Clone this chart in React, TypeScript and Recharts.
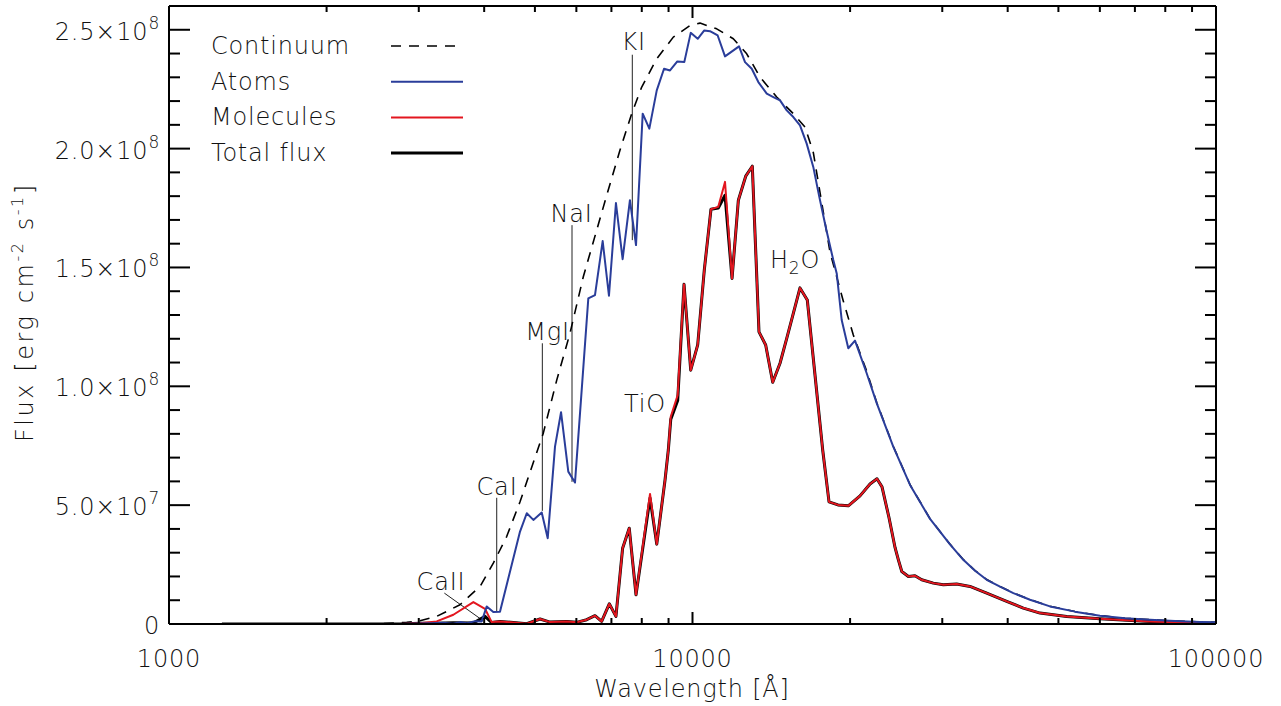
import React from 'react';
import { ComposedChart, Line, XAxis, YAxis, ReferenceLine, ReferenceDot } from 'recharts';

const W = 1281;
const H = 706;
const FONT = "'DejaVu Sans', sans-serif";
const FW = 200;
const TXT = '#111';
const BLUE = '#2a3d9a';
const RED = '#e3161f';

// Wavelength in Angstrom, flux in units of 1e6 erg cm^-2 s^-1
const continuumWl = [1262, 1779, 2530, 2845, 3016, 3246, 3441, 3596, 3928, 4164, 4416, 4683, 5188, 5504, 5834, 6186, 6561, 6858, 7268, 7653, 7998, 8545, 9190, 9890, 10335, 11123, 11966, 12692, 13458, 14482, 15581, 16402, 17011, 17467, 18311, 19386, 20286, 21514, 22484, 24181, 26035, 28427, 31036, 32907, 34651, 36479, 38676, 41012, 44130, 48180, 53780, 60020, 67020, 74787, 83500, 93210, 100000];
const continuumFlux = [0, 0, 0.1, 0.7, 1.4, 3.2, 6.0, 8.1, 15.8, 25.6, 36.8, 51.4, 80.3, 102.6, 122.3, 146.1, 165.7, 180.4, 199.3, 214.7, 225.9, 237.8, 246.9, 251.8, 252.8, 250.4, 246.2, 239.9, 230.1, 221.7, 214.7, 209.1, 198.4, 183.3, 156.4, 136.3, 121.6, 106.4, 93.2, 74.8, 58.6, 44.3, 33.6, 27.1, 22.5, 18.7, 15.75, 13.05, 10.25, 7.45, 5.25, 3.55, 2.45, 1.85, 1.28, 0.86, 0.72];

const atomsWl = [1262, 1779, 2763, 3152, 3337, 3487, 3596, 3708, 3842, 3957, 4045, 4164, 4288, 4683, 4824, 4966, 5152, 5290, 5462, 5609, 5791, 5964, 6324, 6512, 6736, 6925, 7141, 7354, 7594, 7800, 8033, 8271, 8545, 8823, 9058, 9354, 9645, 9922, 10231, 10532, 10800, 11171, 11537, 12271, 12599, 12977, 13359, 13862, 14269, 14696, 15136, 15581, 16045, 16524, 17011, 17467, 17989, 18575, 18858, 19275, 19843, 20437, 21514, 22484, 24181, 26035, 28427, 31036, 32907, 34651, 36479, 38676, 41012, 44130, 48180, 53780, 60020, 67020, 74787, 83500, 93210, 100000];
const atomsFlux = [0, 0, 0, 0.3, 0.5, 0.1, 0.8, 0.3, 1.2, 1.1, 7.4, 5.0, 5.2, 38.9, 46.6, 43.8, 46.9, 36.1, 74.6, 89.1, 64.1, 59.5, 137.0, 138.4, 161.1, 138.1, 177.1, 153.5, 178.3, 159.4, 214.7, 208.4, 224.5, 233.6, 232.9, 236.7, 236.4, 248.7, 246.2, 249.7, 249.4, 247.6, 238.8, 243.0, 236.4, 233.6, 228.0, 223.1, 221.7, 220.3, 216.1, 213.3, 209.8, 202.1, 192.3, 179.7, 166.5, 153.1, 147.5, 127.9, 116.0, 119.2, 105.5, 92.9, 74.6, 58.5, 44.2, 33.5, 27.0, 22.4, 18.6, 15.7, 13.0, 10.2, 7.4, 5.2, 3.5, 2.4, 1.8, 1.26, 0.84, 0.7];

const moleculesWl = [1262, 2763, 3016, 3246, 3493, 3814, 4015, 4134, 4288, 4824, 5114, 5343, 5750, 6009, 6279, 6512, 6706, 6935, 7141, 7354, 7571, 7800, 8296, 8545, 8862, 8991, 9087, 9369, 9634, 9922, 10231, 10532, 10847, 11201, 11537, 11899, 12235, 12638, 13009, 13397, 13797, 14232, 14696, 15136, 15581, 16045, 16569, 17730, 18230, 18962, 19843, 20893, 21833, 22510, 23014, 23736, 24376, 24733, 25107, 25846, 26607, 27408, 28840, 30137, 31963, 33890, 36479, 39829, 42855, 46115, 51858, 60020, 74787, 93210, 100000];
const moleculesFlux = [0, 0, 0.3, 1.1, 3.9, 9.2, 6.4, 0.8, 1.1, 0.1, 2.1, 0.8, 1.1, 0.7, 1.8, 3.5, 1.1, 8.5, 3.2, 31.9, 40.3, 12.3, 54.7, 33.6, 60.6, 73.2, 87.2, 96.3, 142.9, 106.8, 117.4, 148.9, 174.5, 175.5, 186.0, 145.4, 178.3, 188.4, 192.6, 122.9, 117.4, 101.7, 109.7, 120.2, 130.7, 141.4, 136.3, 73.2, 51.4, 50.1, 49.7, 53.9, 58.9, 61.1, 57.7, 44.7, 32.1, 27.0, 22.1, 20.0, 20.3, 18.6, 17.2, 16.5, 16.8, 15.8, 13.0, 9.5, 6.7, 4.6, 3.2, 2.2, 1.1, 0.4, 0.3];

const totalWl = moleculesWl;
const totalFlux = [0, 0, 0.3, 0.3, 0.5, 0.4, 3.2, 0.6, 1.1, 0.1, 2.1, 0.8, 1.1, 0.7, 1.8, 3.5, 1.1, 8.5, 3.2, 31.9, 40.3, 12.3, 53.0, 33.6, 60.6, 73.2, 86.0, 94.0, 142.9, 106.8, 117.4, 148.9, 174.5, 175.0, 180.4, 145.4, 178.3, 188.4, 192.6, 122.9, 117.4, 101.7, 109.7, 120.2, 130.7, 141.4, 136.3, 73.2, 51.4, 50.1, 49.7, 53.9, 58.9, 61.1, 57.7, 44.7, 32.1, 27.0, 22.1, 20.0, 20.3, 18.6, 17.2, 16.5, 16.8, 15.8, 13.0, 9.5, 6.7, 4.6, 3.2, 2.2, 1.1, 0.4, 0.3];

const xTicks = [1000, 2000, 3000, 4000, 5000, 6000, 7000, 8000, 9000, 10000, 20000, 30000, 40000, 50000, 60000, 70000, 80000, 90000, 100000];
const xMajor = [1000, 10000, 100000];
const yTicks = Array.from({ length: 26 }, (_, i) => i * 1e7);

// annotation: label position (tx, ty) and line from (x1,y1) to (x2,y2); flux in 1e6
const annotations = [
  { label: 'CaII', tx: 3308, ty: 14.4, x1: 3357, y1: 13.0, x2: 3957, y2: 1.8 },
  { label: 'CaI', tx: 4233, ty: 54.3, x1: 4227, y1: 53.1, x2: 4227, y2: 5.2 },
  { label: 'MgI', tx: 5284, ty: 119.5, x1: 5166, y1: 118.1, x2: 5166, y2: 47.6 },
  { label: 'NaI', tx: 5877, ty: 169.2, x1: 5886, y1: 167.8, x2: 5886, y2: 59.8 },
  { label: 'KI', tx: 7721, ty: 241.3, x1: 7674, y1: 239.5, x2: 7674, y2: 161.5 },
];
const tioLabel = { label: 'TiO', tx: 8115, ty: 89.3 };
const h2oLabel = { tx: 14062, ty: 149.6 };

const toRows = (wl: number[], fl: number[]) => wl.map((w, i) => ({ wl: w, f: fl[i] * 1e6 }));

const series = [
  { name: 'Continuum', rows: toRows(continuumWl, continuumFlux), color: '#000', width: 1.6, dash: '10 8' },
  { name: 'Atoms', rows: toRows(atomsWl, atomsFlux), color: BLUE, width: 2, dash: undefined },
  { name: 'Molecules', rows: toRows(moleculesWl, moleculesFlux), color: RED, width: 2, dash: undefined },
  { name: 'Total flux', rows: toRows(totalWl, totalFlux), color: '#000', width: 3, dash: undefined },
];

const fmtY = (v: number) => {
  if (v === 0) return { m: '0', e: '' };
  const e = Math.floor(Math.log10(v) + 1e-9);
  return { m: (v / Math.pow(10, e)).toFixed(1) + '\u00d710', e: String(e) };
};

const isMajorY = (v: number) => Math.round(v / 1e7) % 5 === 0;

const textProps = { fontSize: 24, fontFamily: FONT, fontWeight: FW, fill: TXT, letterSpacing: 0.8 } as const;

const BottomTick = (p: any) => {
  const v = p.payload.value;
  const major = xMajor.includes(v);
  return (
    <g>
      <line x1={p.x} x2={p.x} y1={p.y} y2={p.y - (major ? 12 : 6)} stroke="#000" strokeWidth={2} />
      {major && (
        <text x={p.x} y={p.y + 43} textAnchor="middle" {...textProps}>
          {v}
        </text>
      )}
    </g>
  );
};
const TopTick = (p: any) => {
  const v = p.payload.value;
  const major = xMajor.includes(v);
  return <line x1={p.x} x2={p.x} y1={p.y} y2={p.y + (major ? 12 : 6)} stroke="#000" strokeWidth={2} />;
};
const LeftTick = (p: any) => {
  const v = p.payload.value;
  const major = isMajorY(v);
  const f = fmtY(v);
  return (
    <g>
      <line x1={p.x} x2={p.x + (major ? 21 : 11)} y1={p.y} y2={p.y} stroke="#000" strokeWidth={2} />
      {major && (
        <text x={p.x - 9} y={p.y + 10} textAnchor="end" {...textProps}>
          {f.m}
          {f.e && <tspan fontSize={17} dy={-11}>{f.e}</tspan>}
        </text>
      )}
    </g>
  );
};
const RightTick = (p: any) => {
  const v = p.payload.value;
  const major = isMajorY(v);
  return <line x1={p.x} x2={p.x - (major ? 21 : 11)} y1={p.y} y2={p.y} stroke="#000" strokeWidth={2} />;
};

export default function App() {
  const axisLine = { stroke: '#000', strokeWidth: 2 };
  return (
    <div style={{ position: 'absolute', left: 0, top: 0, width: W, height: H, background: '#fff' }}>
      <ComposedChart width={W} height={H} margin={{ top: 5, right: 64, bottom: 81, left: 168 }}>
        <XAxis xAxisId="b" dataKey="wl" type="number" scale="log" domain={[1000, 100000]} allowDataOverflow
          ticks={xTicks} interval={0} tickSize={0} tickMargin={0} tickLine={false} axisLine={axisLine}
          stroke="#000" strokeWidth={2} tick={<BottomTick />} height={1} orientation="bottom" />
        <XAxis xAxisId="t" dataKey="wl" type="number" scale="log" domain={[1000, 100000]} allowDataOverflow
          ticks={xTicks} interval={0} tickSize={0} tickMargin={0} tickLine={false} axisLine={axisLine}
          stroke="#000" strokeWidth={2} tick={<TopTick />} height={1} orientation="top" />
        <YAxis yAxisId="l" type="number" domain={[0, 2.6e8]} allowDataOverflow ticks={yTicks} interval={0}
          tickSize={0} tickMargin={0} tickLine={false} axisLine={axisLine} stroke="#000" strokeWidth={2}
          tick={<LeftTick />} width={1} orientation="left" />
        <YAxis yAxisId="r" type="number" domain={[0, 2.6e8]} allowDataOverflow ticks={yTicks} interval={0}
          tickSize={0} tickMargin={0} tickLine={false} axisLine={axisLine} stroke="#000" strokeWidth={2}
          tick={<RightTick />} width={1} orientation="right" />

        {annotations.map((a) => (
          <ReferenceLine key={'l' + a.label} xAxisId="b" yAxisId="l" ifOverflow="visible"
            segment={[{ x: a.x1, y: a.y1 * 1e6 }, { x: a.x2, y: a.y2 * 1e6 }]} stroke="#222" strokeWidth={1} />
        ))}
        {annotations.concat([tioLabel as any]).map((a) => (
          <ReferenceDot key={'t' + a.label} xAxisId="b" yAxisId="l" x={a.tx} y={a.ty * 1e6} r={0} ifOverflow="visible"
            shape={(p: any) => (
              <text x={p.cx} y={p.cy} textAnchor="middle" {...textProps}>{a.label}</text>
            )} />
        ))}
        <ReferenceDot xAxisId="b" yAxisId="l" x={h2oLabel.tx} y={h2oLabel.ty * 1e6} r={0} ifOverflow="visible"
          shape={(p: any) => (
            <text x={p.cx} y={p.cy} textAnchor="start" {...textProps}>
              H<tspan fontSize={17} dy={6}>2</tspan><tspan dy={-6}>O</tspan>
            </text>
          )} />

        {[series[0], series[3], series[2], series[1]].map((s) => (
          <Line key={s.name} xAxisId="b" yAxisId="l" data={s.rows} dataKey="f" type="linear"
            stroke={s.color} strokeWidth={s.width} strokeDasharray={s.dash} dot={false}
            activeDot={false} isAnimationActive={false} strokeLinejoin="round" />
        ))}
      </ComposedChart>
      <svg width={W} height={H} style={{ position: 'absolute', left: 0, top: 0, pointerEvents: 'none' }}>
        {series.map((s, i) => (
          <g key={s.name}>
            <text x={211} y={54 + i * 35.7} {...textProps}>{s.name}</text>
            <line x1={391} x2={463} y1={46 + i * 35.7} y2={46 + i * 35.7} stroke={s.color} strokeWidth={s.width}
              strokeDasharray={s.dash} />
          </g>
        ))}
        <text x={692} y={697} textAnchor="middle" {...textProps}>Wavelength [Å]</text>
        <text transform="translate(33,313) rotate(-90)" textAnchor="middle" {...textProps}
          textLength={258} lengthAdjust="spacing">
          Flux [erg cm<tspan fontSize={16} dy={-10}>-2</tspan><tspan dy={10}> s</tspan>
          <tspan fontSize={16} dy={-10}>-1</tspan><tspan dy={10}>]</tspan>
        </text>
      </svg>
    </div>
  );
}
